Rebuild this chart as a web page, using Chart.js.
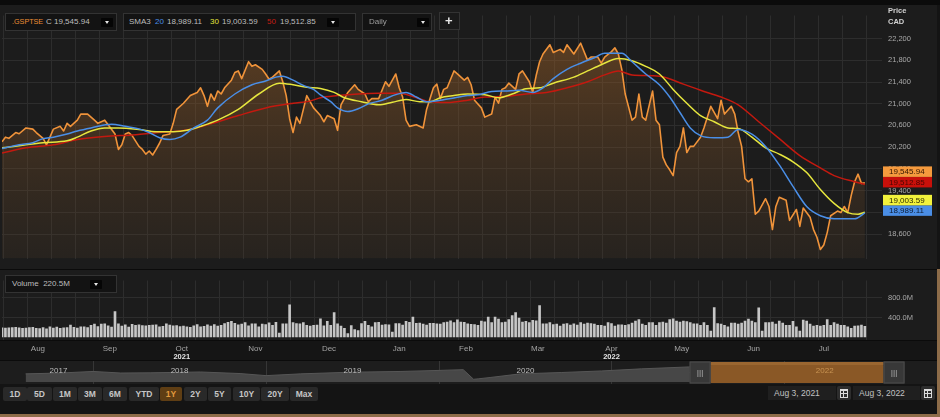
<!DOCTYPE html>
<html>
<head>
<meta charset="utf-8">
<title>.GSPTSE 1Y</title>
<script src="https://cdn.jsdelivr.net/npm/chart.js@4.4.1/dist/chart.umd.min.js"></script>
<style>
  html, body { margin: 0; padding: 0; background: #141414; }
  body { width: 940px; height: 417px; position: relative; overflow: hidden; font-family: "Liberation Sans", Arial, sans-serif; }
  canvas { position: absolute; left: 0; }
  #price { top: 5px; }
  #volume { top: 270px; }
  #nav { top: 361px; }
  .band { position: absolute; left: 0; top: 0; width: 940px; height: 5px; background: #0b0b0b; }
  .sep { position: absolute; left: 0; top: 269px; width: 937px; height: 1px; background: #0b0b0b; }
  .sep2 { position: absolute; left: 0; top: 360px; width: 937px; height: 1px; background: #0b0b0b; }
  .frame-r { position: absolute; left: 937px; top: 269px; width: 3px; height: 148px; background: #8d6c49; }
  .frame-b { position: absolute; left: 0; top: 414px; width: 940px; height: 3px; background: #8d6c49; }
  .box { position: absolute; background: #131313; border: 1px solid #333; box-sizing: border-box; height: 18px; }
  .t { position: absolute; top: 3px; font-size: 8px; line-height: 10px; color: #bdbdbd; white-space: nowrap; }
  .dd { position: absolute; top: 4px; width: 12px; height: 9px; background: #050505; border-radius: 1px; }
  .dd:after { content: ""; position: absolute; left: 4px; top: 3px; border-left: 2.5px solid transparent; border-right: 2.5px solid transparent; border-top: 3.5px solid #e6e6e6; }
  .axhead { position: absolute; left: 888px; font-size: 7.5px; font-weight: bold; color: #d2d2d2; }
  .btn { position: absolute; top: 387px; height: 14px; background: #292929; border-radius: 2px; color: #c6c6c6; font-size: 8.5px; font-weight: bold; line-height: 14px; text-align: center; }
  .btn.on { background: #5f3e14; color: #e39a3e; }
  .date { position: absolute; top: 386px; height: 14px; background: #1f1f1f; color: #c2c2c2; font-size: 8.5px; line-height: 14px; padding-left: 6px; box-sizing: border-box; }
  .cal { position: absolute; top: 386px; width: 14px; height: 14px; background: #2d2d2d; border-radius: 2px; }
  .cal:after { content: ""; position: absolute; left: 3px; top: 3px; width: 6px; height: 6px; border: 1px solid #dcdcdc; border-top-width: 2px;
               background: linear-gradient(#dcdcdc, #dcdcdc) 2px 0/1px 100% no-repeat, linear-gradient(#dcdcdc, #dcdcdc) 0 2px/100% 1px no-repeat; }
</style>
</head>
<body>
<div class="band"></div>
<canvas id="price" width="937" height="264"></canvas>
<div class="sep"></div>
<canvas id="volume" width="937" height="90"></canvas>
<div class="sep2"></div>
<canvas id="nav" width="937" height="23"></canvas>

<div class="box" style="left:5px;top:13px;width:112px">
  <span class="t" style="left:6px;color:#ec8e34;font-size:7.2px">.GSPTSE</span>
  <span class="t" style="left:40px">C 19,545.94</span>
  <span class="dd" style="left:95px"></span>
</div>
<div class="box" style="left:123px;top:13px;width:233px">
  <span class="t" style="left:5px">SMA3</span>
  <span class="t" style="left:31px;color:#4a8ee6">20</span>
  <span class="t" style="left:43px">18,989.11</span>
  <span class="t" style="left:86px;color:#e3e33c">30</span>
  <span class="t" style="left:98px">19,003.59</span>
  <span class="t" style="left:143px;color:#c41b12">50</span>
  <span class="t" style="left:156px">19,512.85</span>
  <span class="dd" style="left:203px"></span>
</div>
<div class="box" style="left:362px;top:13px;width:70px">
  <span class="t" style="left:6px;color:#9e9e9e">Daily</span>
  <span class="dd" style="left:54px"></span>
</div>
<div class="box" style="left:439px;top:12px;width:21px;background:#1a1a1a">
  <span class="t" style="left:5px;top:0px;font-size:13px;line-height:16px;font-weight:bold;color:#e8e8e8">+</span>
</div>
<div class="axhead" style="top:6px">Price</div>
<div class="axhead" style="top:17px">CAD</div>
<div class="box" style="left:5px;top:275px;width:112px">
  <span class="t" style="left:6px">Volume&nbsp; 220.5M</span>
  <span class="dd" style="left:84px"></span>
</div>

<div class="date" style="left:768px;width:68px">Aug 3, 2021</div>
<div class="cal" style="left:837px"></div>
<div class="date" style="left:853px;width:67px">Aug 3, 2022</div>
<div class="cal" style="left:921px"></div>
<div class="frame-r"></div>
<div class="frame-b"></div>

<script>
// trading days counted from Aug 3, 2021 (day 0) to Aug 3, 2022 (day 252)
const monthNames = ['Aug', 'Sep', 'Oct', 'Nov', 'Dec', 'Jan', 'Feb', 'Mar', 'Apr', 'May', 'Jun', 'Jul'];
const monthStarts = [0, 21, 42, 63, 85, 106, 126, 145, 168, 188, 209, 230, 250];
const yearMarks = [['2021', 'Oct'], ['2022', 'Apr']];
const priceTicks = [18600, 19000, 19400, 19800, 20200, 20600, 21000, 21400, 21800, 22200];
const volumeTicks = [400, 800];

// [day, close]
const closes = [
  [0, 20299], [1, 20384], [2, 20362], [4, 20469], [5, 20447], [7, 20554], [9, 20532], [10, 20469],
  [12, 20362], [13, 20243], [14, 20384], [15, 20532], [17, 20583], [18, 20498], [19, 20639], [20, 20583],
  [22, 20697], [23, 20809], [25, 20809], [27, 20697], [28, 20639], [29, 20668], [30, 20697], [31, 20612],
  [33, 20442], [34, 20158], [35, 20243], [36, 20442], [37, 20469], [38, 20413], [40, 20214], [41, 20158],
  [42, 20072], [43, 20129], [44, 20055], [45, 20158], [46, 20272], [47, 20413], [49, 20442], [50, 20639],
  [51, 20895], [53, 21009], [55, 21150], [57, 21208], [58, 21293], [59, 21150], [60, 20952], [61, 21179],
  [62, 21065], [63, 21235], [64, 21179], [65, 21293], [67, 21434], [68, 21575], [69, 21604], [70, 21463],
  [72, 21774], [73, 21689], [74, 21718], [76, 21633], [77, 21548], [78, 21451], [79, 21490], [81, 21604],
  [82, 21405], [83, 21150], [84, 20724], [85, 20469], [86, 20753], [87, 20639], [89, 21150], [91, 20923],
  [93, 20782], [94, 20668], [95, 20782], [97, 20724], [98, 20510], [99, 20980], [101, 21208], [103, 21349],
  [104, 21264], [106, 21179], [107, 21037], [108, 21094], [110, 21094], [112, 21405], [113, 21320], [115, 21548],
  [116, 21293], [117, 21123], [118, 20697], [119, 20583], [121, 20612], [123, 20554], [124, 20895], [126, 21293],
  [127, 21361], [128, 21094], [129, 21264], [130, 21293], [132, 21604], [133, 21548], [135, 21434], [136, 21485],
  [137, 21349], [138, 21065], [140, 20923], [141, 20753], [143, 20809], [144, 21123], [145, 21009], [146, 21264],
  [147, 21293], [148, 21378], [150, 21264], [151, 21548], [152, 21604], [154, 21405], [155, 21208], [156, 21519],
  [157, 21774], [158, 21916], [160, 22086], [161, 21945], [163, 22001], [164, 21945], [165, 22086], [167, 21916],
  [169, 22115], [171, 21803], [172, 21860], [174, 21860], [175, 21746], [176, 21860], [178, 21960], [179, 22030],
  [180, 21916], [181, 21633], [182, 21179], [184, 20697], [185, 20753], [186, 21179], [187, 20753], [188, 20697],
  [190, 21235], [191, 20697], [192, 20612], [193, 20016], [194, 19873], [195, 19783], [196, 19676], [197, 20101],
  [198, 20214], [199, 20554], [200, 20101], [201, 20214], [202, 20214], [204, 20384], [205, 20554], [207, 20952],
  [209, 20724], [210, 21065], [211, 20809], [213, 20952], [214, 20809], [215, 20469], [216, 20214], [217, 19618],
  [218, 19562], [219, 19618], [220, 18966], [221, 19022], [223, 19250], [224, 19107], [225, 18682], [226, 19107],
  [227, 19278], [229, 19221], [230, 18852], [232, 19051], [233, 18740], [234, 19080], [236, 18910], [237, 18682],
  [238, 18541], [239, 18314], [240, 18399], [241, 18626], [242, 18937], [244, 19022], [245, 18995], [246, 19107],
  [247, 18995], [248, 19307], [249, 19562], [250, 19703], [251, 19533], [252, 19545.94]
];

const sma20 = [
  [0, 20175], [5, 20243], [9, 20282], [12, 20357], [15, 20384], [19, 20442], [22, 20498], [26, 20554],
  [32, 20622], [36, 20583], [40, 20537], [43, 20469], [46, 20374], [49, 20340], [52, 20384], [56, 20554],
  [60, 20697], [63, 20923], [68, 21179], [73, 21349], [77, 21417], [80, 21490], [82, 21507], [85, 21434],
  [88, 21337], [91, 21264], [93, 21162], [96, 21037], [98, 20923], [101, 20855], [104, 20906], [107, 20997],
  [111, 21065], [115, 21167], [118, 21208], [121, 21123], [124, 21037], [128, 21065], [132, 21106], [136, 21150],
  [139, 21167], [143, 21225], [147, 21235], [151, 21247], [155, 21208], [158, 21293], [161, 21463], [165, 21633],
  [169, 21746], [173, 21848], [176, 21928], [181, 21928], [184, 21774], [188, 21548], [192, 21349], [195, 21123],
  [198, 20838], [201, 20554], [204, 20413], [208, 20374], [212, 20384], [215, 20527], [219, 20442], [223, 20214],
  [227, 19873], [231, 19477], [235, 19107], [239, 18937], [243, 18881], [247, 18881], [249, 18881], [252, 18989.11]
];

const sma30 = [
  [0, 20187], [5, 20226], [12, 20282], [19, 20316], [22, 20384], [26, 20498], [30, 20554], [34, 20554],
  [40, 20527], [45, 20486], [50, 20486], [54, 20510], [58, 20583], [63, 20697], [69, 20895], [75, 21179],
  [81, 21378], [85, 21349], [89, 21303], [93, 21281], [97, 21208], [100, 21111], [105, 21037], [110, 20980],
  [114, 21026], [118, 21077], [122, 21037], [125, 21037], [128, 21111], [132, 21150], [136, 21179], [141, 21167],
  [145, 21111], [149, 21179], [153, 21276], [157, 21293], [161, 21378], [167, 21490], [171, 21604], [175, 21718],
  [180, 21831], [184, 21792], [188, 21689], [192, 21548], [196, 21264], [200, 21009], [204, 20782], [208, 20668],
  [212, 20554], [215, 20544], [219, 20384], [223, 20187], [227, 20072], [231, 19931], [235, 19732], [239, 19421],
  [243, 19165], [247, 18995], [250, 18966], [252, 19003.59]
];

const sma50 = [
  [0, 20090], [7, 20187], [15, 20243], [22, 20340], [30, 20396], [38, 20425], [46, 20469], [54, 20515],
  [61, 20629], [69, 20782], [77, 20923], [85, 21009], [90, 21048], [93, 21111], [98, 21150], [104, 21179],
  [110, 21191], [116, 21191], [120, 21133], [124, 21048], [130, 21021], [136, 21065], [141, 21123], [147, 21133],
  [153, 21179], [159, 21208], [165, 21293], [171, 21405], [176, 21531], [180, 21604], [184, 21531], [192, 21507],
  [199, 21361], [204, 21247], [210, 21123], [215, 20980], [221, 20668], [227, 20357], [233, 20044], [239, 19817],
  [243, 19676], [249, 19562], [252, 19512.85]
];

// daily volume, millions of shares
const volumes = [
  190, 185, 190, 195, 200, 190, 180, 185, 195, 200, 180, 175, 195, 170, 210, 185, 205, 180, 190, 195, 245,
  200, 185, 210, 210, 195, 240, 265, 215, 265, 270, 230, 205, 520, 270, 225, 250, 205, 260, 240, 250, 235,
  230, 240, 245, 250, 210, 220, 270, 245, 230, 235, 215, 225, 210, 200, 230, 255, 210, 220, 250, 225, 255,
  225, 240, 275, 300, 320, 280, 250, 265, 295, 230, 270, 270, 210, 265, 255, 290, 240, 300, 80, 270, 270, 660,
  295, 275, 270, 295, 240, 225, 240, 245, 370, 230, 320, 240, 500, 270, 225, 180, 70, 235, 150, 130, 275,
  320, 240, 210, 295, 300, 245, 255, 250, 100, 275, 275, 245, 320, 300, 410, 280, 285, 265, 245, 280,
  280, 270, 265, 295, 305, 330, 295, 350, 305, 300, 270, 260, 255, 240, 325, 310, 410, 295, 410,
  365, 295, 305, 355, 440, 500, 390, 305, 320, 295, 340, 330, 645, 270, 270, 295, 255, 265, 225, 265, 275, 245, 270,
  245, 295, 265, 285, 275, 265, 240, 240, 225, 295, 275, 225, 250, 250, 240, 255, 285, 325, 355, 265,
  240, 295, 295, 240, 295, 305, 285, 355, 370, 325, 305, 325, 315, 295, 270, 270, 240, 295, 240, 120, 605,
  275, 265, 240, 210, 285, 285, 265, 285, 325, 365, 325, 295, 595, 120, 295, 295, 305, 265, 325, 285, 240,
  240, 320, 210, 120, 345, 325, 265, 225, 240, 225, 240, 355, 240, 295, 265, 240, 240, 210, 180, 225,
  230, 245, 220.5
];

// navigator: 5 years of the index, dates as fractional years
const navDates = [2017.61, 2017.81, 2018.0, 2018.16, 2018.33, 2018.62, 2018.85, 2019.0, 2019.2, 2019.49, 2019.78,
  2020.0, 2020.14, 2020.2, 2020.23, 2020.3, 2020.47, 2020.71, 2020.94, 2021.17, 2021.44, 2021.63, 2021.86,
  2022.09, 2022.2, 2022.38, 2022.57];
const navLevels = [14340, 15000, 16230, 15000, 15160, 15820, 14580, 12940, 14340, 15650, 16230,
  17050, 17630, 10060, 10470, 11540, 14340, 15400, 16640, 18290, 19770, 20760, 21580,
  21580, 22400, 19520, 19930];
const navYearLabels = [['2017', 2017.8], ['2018', 2018.5], ['2019', 2019.5], ['2020', 2020.5], ['2021', 2021.5], ['2022', 2022.23]];
const navWindow = [2021.57, 2022.57];

const rangeButtons = [['1D', 3, 24], ['5D', 27, 25], ['1M', 53, 24], ['3M', 78, 24], ['6M', 103, 24], ['YTD', 129, 30],
  ['1Y', 160, 22], ['2Y', 184, 23], ['5Y', 208, 23], ['10Y', 233, 27], ['20Y', 261, 28], ['Max', 290, 28]];

const FONT = '"Liberation Sans", Arial, sans-serif';
const GRID = '#2d2d2d';
const ORANGE = '#f0933a', BLUE = '#4a8ee6', YELLOW = '#e6e63e', RED = '#c3190f';
const X_MAX = 257;

rangeButtons.forEach(([label, left, width]) => {
  const b = document.createElement('div');
  b.className = 'btn' + (label === '1Y' ? ' on' : '');
  b.style.left = left + 'px';
  b.style.width = width + 'px';
  b.textContent = label;
  document.body.appendChild(b);
});

const monthMids = monthNames.map((m, i) => (monthStarts[i] + monthStarts[i + 1]) / 2);
const toXY = arr => arr.map(([x, y]) => ({x, y}));

function gridAxis() {
  return {
    type: 'linear', min: 0, max: X_MAX, position: 'bottom', offset: false,
    ticks: {display: false},
    grid: {color: GRID, drawTicks: false, offset: false},
    border: {display: false},
    afterBuildTicks: s => {
      const t = [];
      for (let v = 0.4; v <= s.max; v += 7) t.push({value: v});
      s.ticks = t;
    },
    afterFit: s => { s.height = 0; }
  };
}

function panelBg(color, strip) {
  return {
    id: 'panelBg',
    beforeDraw(chart) {
      const {ctx, width, height, chartArea} = chart;
      ctx.save();
      ctx.fillStyle = color;
      ctx.fillRect(0, 0, width, strip ? chartArea.bottom : height);
      if (strip) {
        ctx.fillStyle = strip;
        ctx.fillRect(0, chartArea.bottom, width, height - chartArea.bottom);
        ctx.fillStyle = '#0b0b0b';
        ctx.fillRect(0, chartArea.bottom, width, 1);
      }
      ctx.restore();
    }
  };
}

const lastOf = arr => arr[arr.length - 1][1];

const tagPlugin = {
  id: 'tags',
  afterDraw(chart) {
    const {ctx, chartArea} = chart;
    const y = chart.scales.y;
    const tags = [
      {v: lastOf(sma20), bg: BLUE, fg: '#0d1c33'},
      {v: lastOf(sma30), bg: '#f2f23c', fg: '#2b2b00'},
      {v: lastOf(sma50), bg: '#c8100a', fg: '#4a0500'},
      {v: lastOf(closes), bg: '#f59a3d', fg: '#331600'}
    ].sort((a, b) => a.v - b.v);
    const h = 10.5;
    let prev = Infinity;
    ctx.save();
    ctx.font = '8px ' + FONT;
    ctx.textBaseline = 'middle';
    ctx.textAlign = 'left';
    tags.forEach(t => {
      const c = Math.min(y.getPixelForValue(t.v) - 2.3, prev - h);
      prev = c;
      ctx.fillStyle = t.bg;
      ctx.fillRect(chartArea.right + 1, c - h / 2, 49, h);
      ctx.fillStyle = t.fg;
      ctx.fillText(t.v.toLocaleString('en-US', {minimumFractionDigits: 2}), chartArea.right + 7, c + 0.5);
    });
    ctx.restore();
  }
};

const fillGradient = ctx => {
  const a = ctx.chart.chartArea;
  if (!a) return 'rgba(0,0,0,0)';
  const g = ctx.chart.ctx.createLinearGradient(0, a.top, 0, a.bottom);
  g.addColorStop(0, 'rgba(165,100,40,0.52)');
  g.addColorStop(1, 'rgba(80,60,40,0.22)');
  return g;
};

const common = {
  responsive: false,
  animation: false,
  devicePixelRatio: 1,
  plugins: {legend: {display: false}, tooltip: {enabled: false}},
  elements: {point: {radius: 0}}
};

new Chart(document.getElementById('price'), {
  type: 'line',
  data: {
    datasets: [
      {label: 'SMA 20', data: toXY(sma20), borderColor: BLUE, borderWidth: 1.5, order: 0, cubicInterpolationMode: 'monotone'},
      {label: 'SMA 30', data: toXY(sma30), borderColor: YELLOW, borderWidth: 1.5, order: 1, cubicInterpolationMode: 'monotone'},
      {label: 'SMA 50', data: toXY(sma50), borderColor: RED, borderWidth: 1.5, order: 2, cubicInterpolationMode: 'monotone'},
      {label: '.GSPTSE', data: toXY(closes), borderColor: ORANGE, borderWidth: 1.6, order: 3,
       fill: 'start', backgroundColor: fillGradient, borderJoinStyle: 'round'}
    ]
  },
  options: {
    ...common,
    layout: {padding: {left: 2, right: 0, top: 0, bottom: 1}, autoPadding: false},
    scales: {
      x: gridAxis(),
      y: {
        position: 'right', min: 18149, max: 22625,
        afterBuildTicks: s => { s.ticks = priceTicks.map(v => ({value: v})); },
        afterFit: s => { s.width = 55; },
        ticks: {color: '#a9a9a9', font: {size: 7.5, family: FONT}, padding: 6,
                callback: v => v.toLocaleString('en-US')},
        grid: {color: GRID, drawTicks: false},
        border: {display: false}
      }
    }
  },
  plugins: [panelBg('#1c1c1c'), tagPlugin]
});

const yearPlugin = {
  id: 'years',
  afterDraw(chart) {
    const {ctx} = chart;
    const xm = chart.scales.xm;
    ctx.save();
    ctx.font = 'bold 7.5px ' + FONT;
    ctx.fillStyle = '#e4e4e4';
    ctx.textAlign = 'center';
    ctx.textBaseline = 'middle';
    yearMarks.forEach(([yr, m]) => {
      ctx.fillText(yr, xm.getPixelForValue(monthMids[monthNames.indexOf(m)]), 87);
    });
    ctx.restore();
  }
};

new Chart(document.getElementById('volume'), {
  type: 'bar',
  data: {
    datasets: [{
      label: 'Volume',
      data: volumes.map((v, i) => ({x: i, y: v})),
      backgroundColor: '#c6c6c6',
      barThickness: 2,
      xAxisID: 'x', yAxisID: 'y'
    }]
  },
  options: {
    ...common,
    layout: {padding: {left: 2, right: 0, top: 0, bottom: 0}, autoPadding: false},
    scales: {
      x: gridAxis(),
      xm: {
        type: 'linear', min: 0, max: X_MAX, position: 'bottom', offset: false,
        afterBuildTicks: s => { s.ticks = monthMids.map(v => ({value: v})); },
        afterFit: s => { s.height = 20; },
        ticks: {autoSkip: false, maxRotation: 0, color: '#a3a3a3', font: {size: 8, family: FONT}, padding: 4,
                callback: (v, i) => monthNames[i]},
        grid: {display: false, drawTicks: false, offset: false},
        border: {display: false}
      },
      y: {
        position: 'right', min: -61, max: 1157,
        afterBuildTicks: s => { s.ticks = volumeTicks.map(v => ({value: v})); },
        afterFit: s => { s.width = 55; },
        ticks: {color: '#a9a9a9', font: {size: 7.5, family: FONT}, padding: 6,
                callback: v => v.toFixed(1) + 'M'},
        grid: {color: GRID, drawTicks: false},
        border: {display: false}
      }
    }
  },
  plugins: [panelBg('#1c1c1c', '#151515'), yearPlugin]
});

const navPlugin = {
  id: 'navWindow',
  afterDraw(chart) {
    const {ctx} = chart;
    const x = chart.scales.x;
    const x1 = x.getPixelForValue(navWindow[0]);
    const x2 = x.getPixelForValue(navWindow[1]);
    ctx.save();
    ctx.font = '8px ' + FONT;
    ctx.textAlign = 'center';
    ctx.textBaseline = 'middle';
    ctx.fillStyle = '#bdbdbd';
    navYearLabels.slice(0, -1).forEach(([lbl, t]) => ctx.fillText(lbl, x.getPixelForValue(t), 9.5));
    ctx.fillStyle = '#8a5826';
    ctx.fillRect(x1, 1, x2 - x1, 21);
    ctx.fillStyle = '#9a6630';
    ctx.fillRect(x1, 1, x2 - x1, 3);
    const [lbl, t] = navYearLabels[navYearLabels.length - 1];
    ctx.fillStyle = '#c99452';
    ctx.fillText(lbl, x.getPixelForValue(t), 9.5);
    [[x1 - 21, x1], [x2, x2 + 21]].forEach(([a, b]) => {
      ctx.fillStyle = '#383838';
      ctx.fillRect(a, 0.5, b - a, 22);
      ctx.strokeStyle = '#4c4c4c';
      ctx.strokeRect(a + 0.5, 1, b - a - 1, 21);
      ctx.fillStyle = '#8c8c8c';
      ctx.font = 'bold 8px ' + FONT;
      ctx.fillText('|||', (a + b) / 2, 11.5);
    });
    ctx.restore();
  }
};

new Chart(document.getElementById('nav'), {
  type: 'line',
  data: {
    datasets: [{
      label: 'History',
      data: navDates.map((t, i) => ({x: t, y: navLevels[i]})),
      borderColor: '#565656', borderWidth: 1,
      backgroundColor: '#474747',
      fill: {value: 8000}
    }]
  },
  options: {
    ...common,
    layout: {padding: 0, autoPadding: false},
    scales: {
      x: {
        type: 'linear', min: 2017.462, max: 2022.879,
        afterBuildTicks: s => { s.ticks = [2018, 2019, 2020, 2021, 2022].map(v => ({value: v})); },
        afterFit: s => { s.height = 0; },
        ticks: {display: false},
        grid: {color: '#363636', drawTicks: false},
        border: {display: false}
      },
      y: {display: false, min: 6354, max: 24470}
    }
  },
  plugins: [panelBg('#1d1d1d'), navPlugin]
});
</script>
</body>
</html>
